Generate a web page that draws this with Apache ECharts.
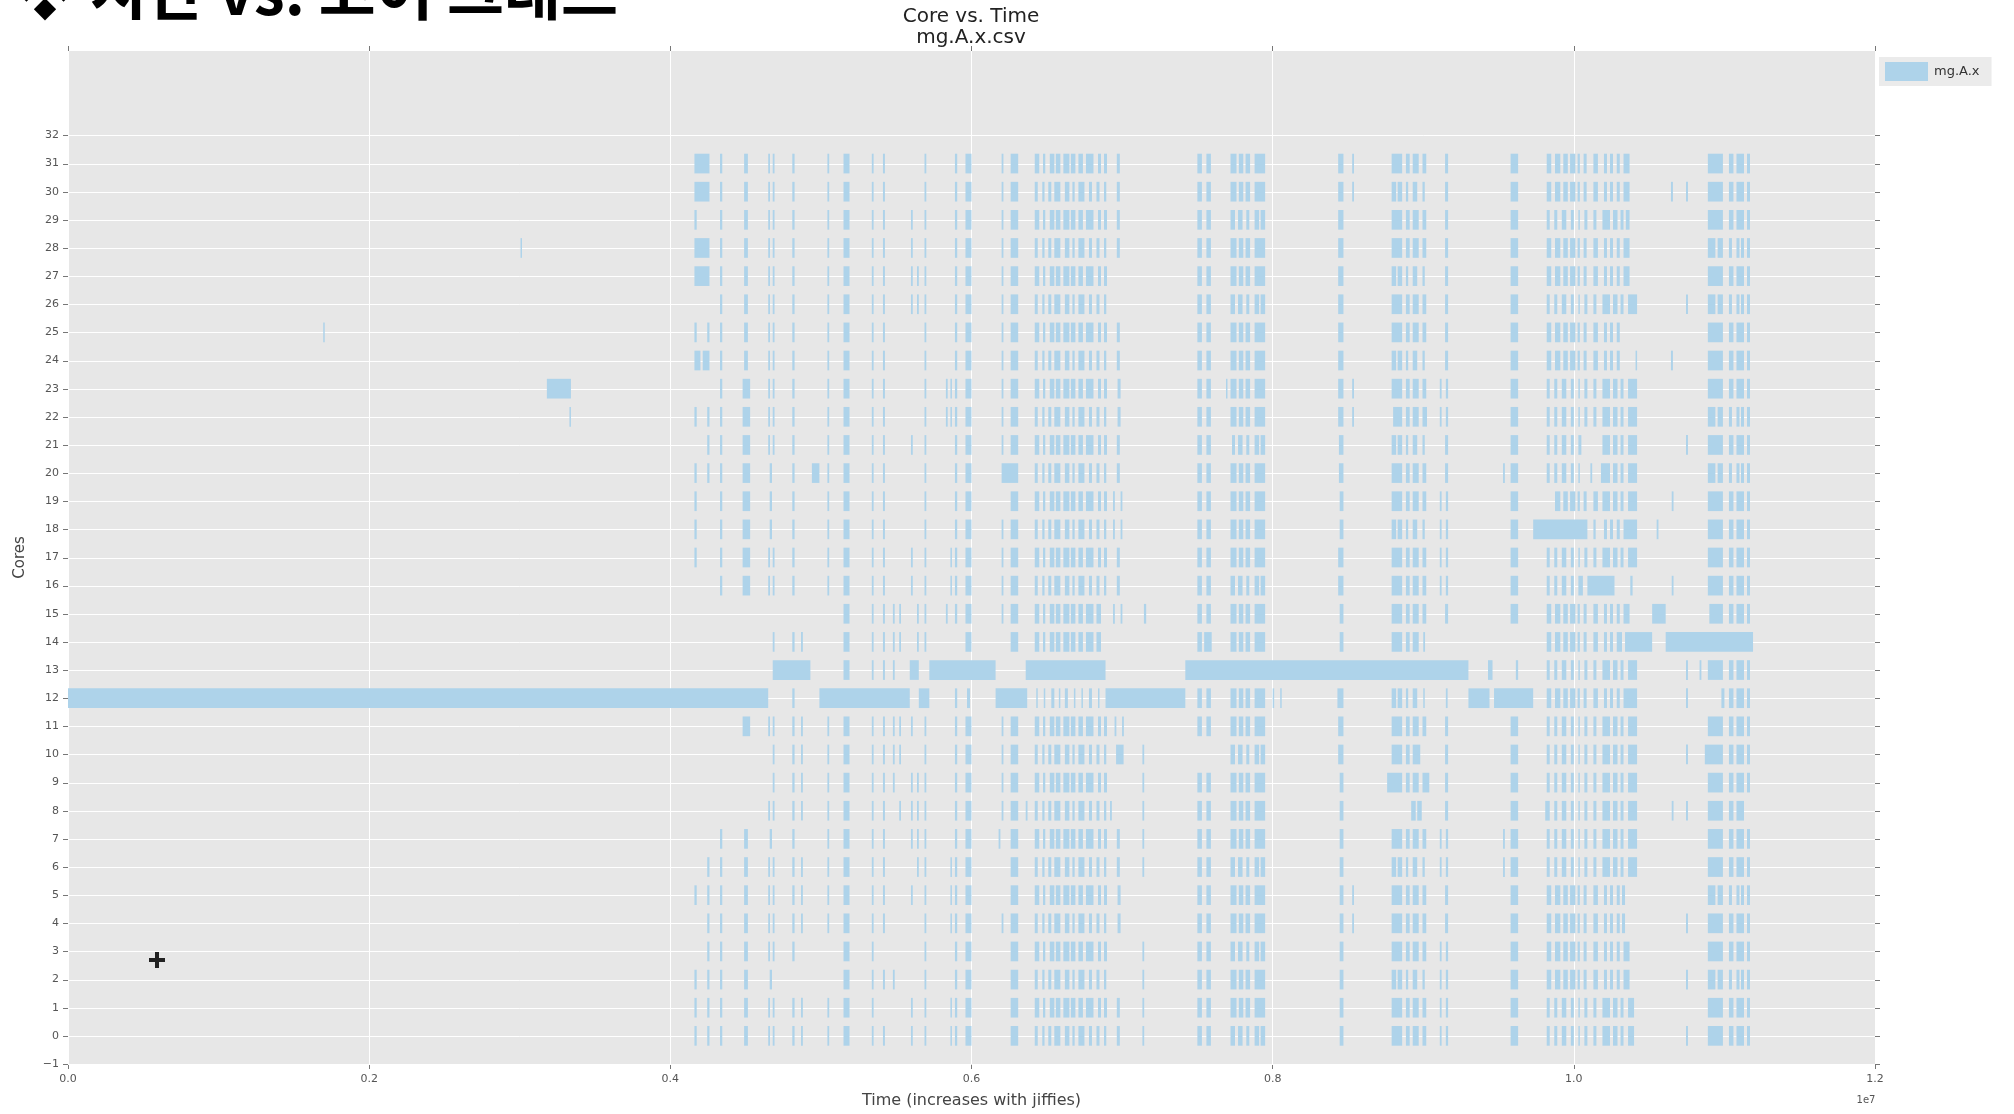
<!DOCTYPE html>
<html>
<head>
<meta charset="utf-8">
<script src="https://cdn.jsdelivr.net/npm/echarts@6/dist/echarts.min.js"></script>
<style>
  html, body { margin: 0; padding: 0; background: #ffffff; }
  #chart { width: 2014px; height: 1114px; }
</style>
</head>
<body>
<div id="chart"></div>
<script>
// Busy intervals per core, as flat [start, end, start, end, ...] lists.
// Times are in units of 1e5 jiffies (the x axis is labelled in 1e7).
const core31 = [41.6,42.6, 43.3,43.45, 44.9,45.15, 46.5,46.62, 46.8,46.92, 48.1,48.25, 50.43,50.55, 51.5,51.9, 53.38,53.5, 54.12,54.25, 56.88,57.0, 58.9,59.05, 59.6,60.0, 62.0,62.12, 62.6,63.1,
  64.2,64.5, 64.75,64.9, 65.2,65.5, 65.6,65.9, 66.1,66.5, 66.6,66.9, 67.1,67.4, 67.6,68.1, 68.4,68.6, 68.8,69.0, 69.65,69.85,
  75.0,75.3, 75.6,75.9, 77.2,77.6, 77.75,78.05, 78.2,78.5, 78.8,79.5, 84.35,84.7, 85.28,85.4,
  87.9,88.6, 88.85,89.1, 89.3,89.7, 89.95,90.2, 91.45,91.65, 95.8,96.3,
  98.2,98.5, 98.75,99.1, 99.3,99.6, 99.75,100.1, 100.25,100.4, 100.65,100.85, 101.3,101.6, 102.0,102.2, 102.4,102.6, 102.85,103.05, 103.3,103.7,
  108.9,109.9, 110.3,110.6, 110.8,111.3, 111.5,111.7];
const core30 = [41.6,42.6, 43.3,43.45, 44.9,45.15, 46.5,46.62, 46.8,46.92, 48.1,48.25, 50.43,50.55, 51.5,51.9, 53.38,53.5, 54.12,54.25, 56.88,57.0, 58.9,59.05, 59.6,60.0, 62.0,62.12, 62.6,63.1,
  64.2,64.4, 64.7,64.85, 65.1,65.3, 65.5,65.9, 66.2,66.5, 66.7,66.85, 67.1,67.5, 67.8,68.0, 68.3,68.5, 68.8,68.95, 69.65,69.85,
  75.0,75.3, 75.6,75.9, 77.2,77.6, 77.75,78.05, 78.2,78.5, 78.8,79.5, 84.35,84.7, 85.28,85.4,
  87.9,88.2, 88.3,88.6, 88.85,89.0, 89.3,89.6, 89.95,90.1, 91.45,91.65, 95.8,96.3,
  98.2,98.5, 98.75,99.1, 99.3,99.6, 99.75,100.1, 100.25,100.4, 100.65,100.85, 101.3,101.6, 102.0,102.2, 102.4,102.6, 102.85,103.05, 103.3,103.7,
  106.45,106.58, 107.45,107.58, 108.9,109.9, 110.3,110.6, 110.8,111.3, 111.5,111.7];
const core29 = [41.6,41.75, 43.3,43.45, 44.9,45.15, 46.5,46.62, 46.8,46.92, 48.1,48.25, 50.43,50.55, 51.5,51.9, 53.38,53.5, 54.12,54.25, 55.98,56.1, 56.88,57.0, 58.9,59.05, 59.6,60.0, 62.0,62.12, 62.6,63.1,
  64.2,64.5, 64.75,64.9, 65.2,65.5, 65.6,65.9, 66.1,66.5, 66.6,66.9, 67.1,67.4, 67.6,68.1, 68.4,68.6, 68.8,69.0, 69.65,69.85,
  75.0,75.3, 75.6,75.9, 77.2,77.5, 77.7,78.0, 78.25,78.45, 78.8,79.1, 79.2,79.5, 84.35,84.7,
  87.9,88.6, 88.85,89.1, 89.3,89.7, 89.95,90.2, 91.45,91.65, 95.8,96.3,
  98.2,98.4, 98.7,98.9, 99.2,99.5, 99.8,100.0, 100.3,100.4, 100.7,100.9, 101.3,101.5, 101.9,102.4, 102.6,102.9, 103.1,103.3, 103.45,103.7,
  108.9,109.9, 110.3,110.6, 110.8,111.3, 111.5,111.7];
const core28 = [30.05,30.15, 41.6,42.6, 43.3,43.45, 44.9,45.15, 46.5,46.62, 46.8,46.92, 48.1,48.25, 50.43,50.55, 51.5,51.9, 53.38,53.5, 54.12,54.25, 55.98,56.1, 56.88,57.0, 58.9,59.05, 59.6,60.0, 62.0,62.12, 62.6,63.1,
  64.2,64.4, 64.7,64.85, 65.1,65.3, 65.5,65.9, 66.2,66.5, 66.7,66.85, 67.1,67.5, 67.8,68.0, 68.3,68.5, 68.8,68.95, 69.65,69.85,
  75.0,75.3, 75.6,75.9, 77.2,77.6, 77.75,78.05, 78.2,78.5, 78.8,79.5, 84.35,84.7,
  87.9,88.6, 88.85,89.1, 89.3,89.7, 89.95,90.2, 91.45,91.65, 95.8,96.3,
  98.2,98.5, 98.75,99.1, 99.3,99.6, 99.75,100.1, 100.25,100.4, 100.65,100.85, 101.3,101.6, 102.0,102.2, 102.4,102.6, 102.85,103.05, 103.3,103.7,
  108.9,109.4, 109.55,109.9, 110.3,110.5, 110.8,111.0, 111.1,111.3, 111.5,111.7];
const core27 = [41.6,42.6, 43.3,43.45, 44.9,45.15, 46.5,46.62, 46.8,46.92, 48.1,48.25, 50.43,50.55, 51.5,51.9, 53.38,53.5, 54.12,54.25, 55.98,56.1, 56.38,56.5, 56.88,57.0, 58.9,59.05, 59.6,60.0, 62.0,62.12, 62.6,63.1,
  64.2,64.5, 64.75,64.9, 65.2,65.5, 65.6,65.9, 66.1,66.5, 66.6,66.9, 67.1,67.4, 67.6,68.1, 68.4,68.6, 68.8,69.0,
  75.0,75.3, 75.6,75.9, 77.2,77.6, 77.75,78.05, 78.2,78.5, 78.8,79.5, 84.35,84.7,
  87.9,88.2, 88.3,88.6, 88.85,89.0, 89.3,89.6, 89.95,90.1, 91.45,91.65, 95.8,96.3,
  98.2,98.5, 98.75,99.1, 99.3,99.6, 99.75,100.1, 100.25,100.4, 100.65,100.85, 101.3,101.6, 102.0,102.2, 102.4,102.6, 102.85,103.05, 103.3,103.7,
  108.9,109.9, 110.3,110.6, 110.8,111.3, 111.5,111.7];
const core26 = [43.3,43.45, 44.9,45.15, 46.5,46.62, 46.8,46.92, 48.1,48.25, 50.43,50.55, 51.5,51.9, 53.38,53.5, 54.12,54.25, 55.98,56.1, 56.38,56.5, 56.88,57.0, 58.9,59.05, 59.6,60.0, 62.0,62.12, 62.6,63.1,
  64.2,64.4, 64.7,64.85, 65.1,65.3, 65.5,65.9, 66.2,66.5, 66.7,66.85, 67.1,67.5, 67.8,68.0, 68.3,68.5, 68.8,68.95,
  75.0,75.3, 75.6,75.9, 77.2,77.5, 77.7,78.0, 78.25,78.45, 78.8,79.1, 79.2,79.5, 84.35,84.7,
  87.9,88.6, 88.85,89.1, 89.3,89.7, 89.95,90.2, 91.45,91.65, 95.8,96.3,
  98.2,98.4, 98.7,98.9, 99.2,99.5, 99.8,100.0, 100.3,100.4, 100.7,100.9, 101.3,101.5, 101.9,102.4, 102.6,102.9, 103.1,103.3, 103.6,104.2,
  107.45,107.58, 108.9,109.4, 109.55,109.9, 110.3,110.5, 110.8,111.0, 111.1,111.3, 111.5,111.7];
const core25 = [16.95,17.05, 41.6,41.75, 42.45,42.6, 43.3,43.45, 44.9,45.15, 46.5,46.62, 46.8,46.92, 48.1,48.25, 50.43,50.55, 51.5,51.9, 53.38,53.5, 54.12,54.25, 56.88,57.0, 58.9,59.05, 59.6,60.0, 62.0,62.12, 62.6,63.1,
  64.2,64.5, 64.75,64.9, 65.2,65.5, 65.6,65.9, 66.1,66.5, 66.6,66.9, 67.1,67.4, 67.6,68.1, 68.4,68.6, 68.8,69.0, 69.65,69.85,
  75.0,75.3, 75.6,75.9, 77.2,77.6, 77.75,78.05, 78.2,78.5, 78.8,79.5, 84.35,84.7,
  87.9,88.6, 88.85,89.1, 89.3,89.7, 89.95,90.2, 91.45,91.65, 95.8,96.3,
  98.2,98.5, 98.75,99.1, 99.3,99.6, 99.75,100.1, 100.25,100.4, 100.65,100.85, 101.3,101.6, 102.0,102.2, 102.4,102.6, 102.85,103.05,
  108.9,109.9, 110.3,110.6, 110.8,111.3, 111.5,111.7];
const core24 = [41.6,42.0, 42.15,42.6, 43.3,43.45, 44.9,45.15, 46.5,46.62, 46.8,46.92, 48.1,48.25, 50.43,50.55, 51.5,51.9, 53.38,53.5, 54.12,54.25, 56.88,57.0, 58.9,59.05, 59.6,60.0, 62.0,62.12, 62.6,63.1,
  64.2,64.4, 64.7,64.85, 65.1,65.3, 65.5,65.9, 66.2,66.5, 66.7,66.85, 67.1,67.5, 67.8,68.0, 68.3,68.5, 68.8,68.95, 69.65,69.85,
  75.0,75.3, 75.6,75.9, 77.2,77.6, 77.75,78.05, 78.2,78.5, 78.8,79.5, 84.35,84.7,
  87.9,88.2, 88.3,88.6, 88.85,89.0, 89.3,89.6, 89.95,90.1, 91.45,91.65, 95.8,96.3,
  98.2,98.5, 98.75,99.1, 99.3,99.6, 99.75,100.1, 100.25,100.4, 100.65,100.85, 101.3,101.6, 102.0,102.2, 102.4,102.6, 102.85,103.05, 104.1,104.2,
  106.45,106.58, 108.9,109.9, 110.3,110.6, 110.8,111.3, 111.5,111.7];
const core23 = [31.8,33.4, 43.3,43.45, 44.8,45.3, 46.5,46.62, 46.8,46.92, 48.1,48.25, 50.43,50.55, 51.5,51.9, 53.38,53.5, 54.12,54.25, 56.88,57.0, 58.3,58.42, 58.6,58.7, 58.9,59.05, 59.6,60.0, 62.0,62.12, 62.6,63.1,
  64.2,64.5, 64.75,64.9, 65.2,65.5, 65.6,65.9, 66.1,66.5, 66.6,66.9, 67.1,67.4, 67.6,68.1, 68.4,68.6, 68.8,69.0, 69.7,69.9,
  75.0,75.3, 75.6,75.9, 76.9,77.0, 77.2,77.6, 77.75,78.05, 78.2,78.5, 78.8,79.5, 84.35,84.7, 85.28,85.4,
  87.9,88.6, 88.85,89.1, 89.3,89.7, 89.95,90.2, 91.1,91.22, 91.5,91.65, 95.8,96.3,
  98.2,98.4, 98.7,98.9, 99.2,99.5, 99.8,100.0, 100.3,100.4, 100.7,100.9, 101.3,101.5, 101.9,102.4, 102.6,102.9, 103.1,103.3, 103.6,104.2,
  108.9,109.9, 110.3,110.6, 110.8,111.3, 111.5,111.7];
const core22 = [33.3,33.4, 41.6,41.75, 42.45,42.6, 43.3,43.45, 44.8,45.3, 46.5,46.62, 46.8,46.92, 48.1,48.25, 50.43,50.55, 51.5,51.9, 53.38,53.5, 54.12,54.25, 56.88,57.0, 58.3,58.42, 58.6,58.7, 58.9,59.05, 59.6,60.0, 62.0,62.12, 62.6,63.1,
  64.2,64.4, 64.7,64.85, 65.1,65.3, 65.5,65.9, 66.2,66.5, 66.7,66.85, 67.1,67.5, 67.8,68.0, 68.3,68.5, 68.8,68.95, 69.7,69.9,
  75.0,75.3, 75.6,75.9, 77.2,77.6, 77.75,78.05, 78.2,78.5, 78.8,79.5, 84.35,84.7, 85.28,85.4,
  88.0,88.6, 88.85,89.1, 89.3,89.7, 89.95,90.25, 91.1,91.22, 91.5,91.65, 95.8,96.3,
  98.2,98.4, 98.7,98.9, 99.2,99.5, 99.8,100.0, 100.3,100.4, 100.7,100.9, 101.3,101.5, 101.9,102.4, 102.6,102.9, 103.1,103.3, 103.6,104.2,
  108.9,109.4, 109.55,109.9, 110.3,110.5, 110.8,111.0, 111.1,111.3, 111.5,111.7];
const core21 = [42.45,42.6, 43.3,43.45, 44.8,45.3, 46.5,46.62, 46.8,46.92, 48.1,48.25, 50.43,50.55, 51.5,51.9, 53.38,53.5, 54.12,54.25, 55.98,56.1, 56.88,57.0, 58.9,59.05, 59.6,60.0, 62.0,62.12, 62.6,63.1,
  64.2,64.5, 64.75,64.9, 65.2,65.5, 65.6,65.9, 66.1,66.5, 66.6,66.9, 67.1,67.4, 67.6,68.1, 68.4,68.6, 68.8,69.0, 69.65,69.85,
  75.0,75.3, 75.6,75.9, 77.3,77.5, 77.7,78.0, 78.25,78.45, 78.8,79.1, 79.2,79.5, 84.4,84.7,
  87.9,88.2, 88.3,88.6, 88.85,89.0, 89.3,89.6, 89.95,90.1, 91.45,91.65, 95.8,96.3,
  98.2,98.4, 98.7,98.9, 99.2,99.5, 99.8,100.0, 100.3,100.5, 101.9,102.4, 102.6,102.9, 103.1,103.3, 103.6,104.2,
  107.45,107.58, 108.9,109.9, 110.3,110.6, 110.8,111.3, 111.5,111.7];
const core20 = [41.6,41.75, 42.45,42.6, 43.3,43.45, 44.8,45.3, 46.6,46.75, 48.1,48.25, 49.4,49.9, 50.43,50.55, 51.5,51.9, 53.38,53.5, 54.12,54.25, 56.88,57.0, 58.9,59.05, 59.6,60.0, 62.0,63.1,
  64.2,64.4, 64.7,64.85, 65.1,65.3, 65.5,65.9, 66.2,66.5, 66.7,66.85, 67.1,67.5, 67.8,68.0, 68.3,68.5, 68.8,68.95, 69.65,69.85,
  75.0,75.3, 75.6,75.9, 77.2,77.6, 77.75,78.05, 78.2,78.5, 78.8,79.5, 84.4,84.7,
  87.9,88.6, 88.85,89.1, 89.3,89.7, 89.95,90.2, 91.45,91.65, 95.3,95.42, 95.8,96.3,
  98.2,98.4, 98.7,98.9, 99.2,99.5, 99.8,100.0, 100.3,100.4, 101.1,101.22, 101.8,102.4, 102.6,102.9, 103.1,103.3, 103.6,104.2,
  108.9,109.4, 109.55,109.9, 110.3,110.5, 110.8,111.0, 111.1,111.3, 111.5,111.7];
const core19 = [41.6,41.75, 43.3,43.45, 44.8,45.3, 46.6,46.75, 48.1,48.25, 50.43,50.55, 51.5,51.9, 53.38,53.5, 54.12,54.25, 56.88,57.0, 58.9,59.05, 59.6,60.0, 62.6,63.1,
  64.2,64.5, 64.75,64.9, 65.2,65.5, 65.6,65.9, 66.1,66.5, 66.6,66.9, 67.1,67.4, 67.6,68.1, 68.4,68.6, 68.8,69.0, 69.4,69.52, 69.9,70.02,
  75.0,75.3, 75.6,75.9, 77.2,77.6, 77.75,78.05, 78.2,78.5, 78.8,79.5, 84.45,84.7,
  87.9,88.6, 88.85,89.1, 89.3,89.7, 89.95,90.2, 91.1,91.22, 91.5,91.65, 95.8,96.3,
  98.75,99.1, 99.3,99.6, 99.75,100.1, 100.25,100.4, 100.65,100.85, 101.3,101.6, 101.9,102.4, 102.6,102.9, 103.1,103.3, 103.6,104.2,
  106.5,106.62, 108.9,109.9, 110.3,110.6, 110.8,111.3, 111.5,111.7];
const core18 = [41.6,41.75, 43.3,43.45, 44.8,45.3, 46.6,46.75, 48.1,48.25, 50.43,50.55, 51.5,51.9, 53.38,53.5, 54.12,54.25, 56.88,57.0, 58.9,59.05, 59.6,60.0, 62.0,62.12, 62.6,63.1,
  64.2,64.4, 64.7,64.85, 65.1,65.3, 65.5,65.9, 66.2,66.5, 66.7,66.85, 67.1,67.5, 67.8,68.0, 68.3,68.5, 68.8,68.95, 69.4,69.52, 69.9,70.02,
  75.0,75.3, 75.6,75.9, 77.2,77.6, 77.75,78.05, 78.2,78.5, 78.8,79.5, 84.45,84.7,
  87.9,88.2, 88.3,88.6, 88.85,89.0, 89.3,89.6, 89.95,90.1, 91.1,91.22, 91.5,91.65, 95.8,96.3,
  97.3,100.9, 101.3,101.45, 102.0,102.2, 102.4,102.6, 102.85,103.05, 103.3,104.2, 105.5,105.62,
  108.9,109.9, 110.3,110.6, 110.8,111.3, 111.5,111.7];
const core17 = [41.6,41.75, 43.3,43.45, 44.8,45.3, 46.5,46.62, 46.8,46.92, 48.1,48.25, 50.43,50.55, 51.5,51.9, 53.38,53.5, 54.12,54.25, 55.98,56.1, 56.88,57.0, 58.6,58.7, 58.9,59.05, 59.6,60.0, 62.0,62.12, 62.6,63.1,
  64.2,64.5, 64.75,64.9, 65.2,65.5, 65.6,65.9, 66.1,66.5, 66.6,66.9, 67.1,67.4, 67.6,68.1, 68.4,68.6, 68.8,69.0, 69.65,69.85,
  75.0,75.3, 75.6,75.9, 77.2,77.6, 77.75,78.05, 78.2,78.5, 78.8,79.5, 84.35,84.7,
  87.9,88.6, 88.85,89.1, 89.3,89.7, 89.95,90.2, 91.1,91.22, 91.5,91.65, 95.8,96.3,
  98.2,98.4, 98.7,98.9, 99.2,99.5, 99.8,100.0, 100.3,100.4, 100.7,100.9, 101.3,101.5, 101.9,102.4, 102.6,102.9, 103.1,103.3, 103.6,104.2,
  108.9,109.9, 110.3,110.6, 110.8,111.3, 111.5,111.7];
const core16 = [43.3,43.45, 44.8,45.3, 46.5,46.62, 46.8,46.92, 48.1,48.25, 50.43,50.55, 51.5,51.9, 53.38,53.5, 54.12,54.25, 55.98,56.1, 56.88,57.0, 58.6,58.7, 58.9,59.05, 59.6,60.0, 62.0,62.12, 62.6,63.1,
  64.2,64.4, 64.7,64.85, 65.1,65.3, 65.5,65.9, 66.2,66.5, 66.7,66.85, 67.1,67.5, 67.8,68.0, 68.3,68.5, 68.8,68.95, 69.65,69.85,
  75.0,75.3, 75.6,75.9, 77.2,77.5, 77.7,78.0, 78.25,78.45, 78.8,79.1, 79.2,79.5, 84.35,84.7,
  87.9,88.6, 88.85,89.1, 89.3,89.7, 89.95,90.2, 91.1,91.22, 91.5,91.65, 95.8,96.3,
  98.2,98.4, 98.7,98.9, 99.2,99.5, 99.8,100.0, 100.3,100.6, 100.9,102.7, 103.75,103.9, 106.5,106.62,
  108.9,109.9, 110.3,110.6, 110.8,111.3, 111.5,111.7];
const core15 = [51.5,51.9, 53.38,53.5, 54.12,54.25, 54.78,54.9, 55.2,55.32, 56.38,56.5, 56.88,57.0, 58.3,58.42, 58.9,59.05, 59.6,60.0, 62.0,62.12, 62.6,63.1,
  64.2,64.5, 64.75,64.9, 65.2,65.5, 65.6,65.9, 66.1,66.5, 66.6,66.9, 67.1,67.4, 67.6,68.1, 68.3,68.6, 69.4,69.52, 69.9,70.02, 71.45,71.6,
  75.0,75.3, 75.6,75.9, 77.2,77.6, 77.75,78.05, 78.2,78.5, 78.8,79.5, 84.45,84.7,
  87.9,88.6, 88.85,89.1, 89.3,89.7, 89.95,90.2, 91.45,91.65, 95.8,96.3,
  98.2,98.5, 98.75,99.1, 99.3,99.6, 99.75,100.1, 100.25,100.4, 100.65,100.85, 101.3,101.6, 102.0,102.2, 102.4,102.6, 102.85,103.05, 103.3,103.7,
  105.2,106.1, 109.0,109.9, 110.3,110.6, 110.8,111.3, 111.5,111.7];
const core14 = [46.8,46.92, 48.1,48.25, 48.68,48.8, 51.5,51.9, 53.38,53.5, 54.12,54.25, 54.78,54.9, 55.2,55.32, 56.38,56.5, 56.88,57.0, 59.6,60.0, 62.6,63.1,
  64.2,64.5, 64.75,64.9, 65.2,65.5, 65.6,65.9, 66.1,66.5, 66.6,66.9, 67.1,67.4, 67.6,68.1, 68.3,68.6,
  75.0,75.3, 75.45,75.95, 77.2,77.6, 77.75,78.05, 78.2,78.5, 78.8,79.5, 84.45,84.7,
  87.9,88.6, 88.85,89.1, 89.3,89.7, 90.0,90.12,
  98.2,98.5, 98.75,99.1, 99.3,99.6, 99.75,100.1, 100.25,100.4, 100.65,100.85, 101.3,101.6, 102.0,102.2, 102.4,102.6, 102.85,103.2,
  103.4,105.2, 106.1,111.9];
const core13 = [46.8,49.3, 51.5,51.9, 53.38,53.5, 54.12,54.25, 54.78,54.9, 55.9,56.5, 57.2,61.6, 63.6,68.9, 74.2,93.0, 94.3,94.6, 96.15,96.3,
  98.2,98.4, 98.7,98.9, 99.2,99.5, 99.8,100.0, 100.3,100.4, 100.7,100.9, 101.3,101.5, 101.9,102.4, 102.6,102.9, 103.1,103.3, 103.6,104.2,
  107.45,107.58, 108.35,108.47, 108.9,109.9, 110.3,110.6, 110.8,111.3, 111.5,111.7];
const core12 = [0,46.5, 48.1,48.25, 49.9,55.9, 56.5,57.2, 58.9,59.05, 59.7,59.9, 61.6,63.7,
  64.3,64.4, 64.8,64.9, 65.3,65.5, 65.8,65.9, 66.2,66.4, 66.8,66.9, 67.3,67.4, 67.8,68.0, 68.4,68.5, 68.9,74.2,
  75.0,75.3, 75.6,75.9, 77.2,77.6, 77.75,78.05, 78.2,78.5, 78.8,79.5, 80.0,80.1, 80.5,80.6, 84.3,84.7,
  87.9,88.2, 88.3,88.6, 88.85,89.0, 89.3,89.6, 90.0,90.1, 91.5,91.62, 93.0,94.4, 94.7,97.3,
  98.2,98.5, 98.75,99.1, 99.3,99.6, 99.75,100.1, 100.25,100.4, 100.65,100.85, 101.3,101.6, 102.0,102.2, 102.4,102.6, 102.85,103.05, 103.3,104.2,
  107.45,107.58, 109.8,110.0, 110.3,110.6, 110.8,111.3, 111.5,111.7];
const core11 = [44.8,45.3, 46.5,46.62, 46.8,46.92, 48.1,48.25, 48.68,48.8, 50.43,50.55, 51.5,51.9, 53.38,53.5, 54.12,54.25, 54.78,54.9, 55.2,55.32, 55.98,56.1, 56.88,57.0, 58.9,59.05, 59.6,60.0, 62.0,62.12, 62.6,63.1,
  64.2,64.5, 64.75,64.9, 65.2,65.5, 65.6,65.9, 66.1,66.5, 66.6,66.9, 67.1,67.4, 67.6,68.1, 68.4,68.6, 68.8,69.0, 69.5,69.62, 70.0,70.12,
  75.0,75.3, 75.6,75.9, 77.2,77.6, 77.75,78.05, 78.2,78.5, 78.8,79.5, 84.35,84.7,
  87.9,88.6, 88.85,89.1, 89.3,89.7, 89.95,90.2, 91.45,91.65, 95.8,96.3,
  98.2,98.4, 98.7,98.9, 99.2,99.5, 99.8,100.0, 100.3,100.4, 100.7,100.9, 101.3,101.5, 101.9,102.4, 102.6,102.9, 103.1,103.3, 103.6,104.2,
  108.9,109.9, 110.3,110.6, 110.8,111.3, 111.5,111.7];
const core10 = [46.8,46.92, 48.1,48.25, 48.68,48.8, 50.43,50.55, 51.5,51.9, 53.38,53.5, 54.12,54.25, 54.78,54.9, 55.2,55.32, 56.88,57.0, 58.9,59.05, 59.6,60.0, 62.0,62.12, 62.6,63.1,
  64.2,64.4, 64.7,64.85, 65.1,65.3, 65.5,65.9, 66.2,66.5, 66.7,66.85, 67.1,67.5, 67.8,68.0, 68.3,68.5, 68.8,68.95, 69.6,70.1, 71.35,71.47,
  77.2,77.5, 77.7,78.0, 78.25,78.45, 78.8,79.1, 79.2,79.5, 84.35,84.7,
  87.9,88.6, 88.85,89.1, 89.3,89.8, 91.45,91.65, 95.8,96.3,
  98.2,98.4, 98.7,98.9, 99.2,99.5, 99.8,100.0, 100.3,100.4, 100.7,100.9, 101.3,101.5, 101.9,102.4, 102.6,102.9, 103.1,103.3, 103.6,104.2,
  107.45,107.58, 108.7,109.9, 110.3,110.6, 110.8,111.3, 111.5,111.7];
const core9 = [46.8,46.92, 48.1,48.25, 48.68,48.8, 50.43,50.55, 51.5,51.9, 53.38,53.5, 54.12,54.25, 54.78,54.9, 55.98,56.1, 56.38,56.5, 56.88,57.0, 58.9,59.05, 59.6,60.0, 62.0,62.12, 62.6,63.1,
  64.2,64.5, 64.75,64.9, 65.2,65.5, 65.6,65.9, 66.1,66.5, 66.6,66.9, 67.1,67.4, 67.6,68.1, 68.4,68.6, 68.8,69.0, 71.35,71.47,
  75.0,75.3, 75.6,75.9, 77.2,77.6, 77.75,78.05, 78.2,78.5, 78.8,79.5, 84.45,84.7,
  87.6,88.6, 88.85,89.1, 89.3,89.7, 89.95,90.4, 91.45,91.65, 95.8,96.3,
  98.2,98.4, 98.7,98.9, 99.2,99.5, 99.8,100.0, 100.3,100.4, 100.7,100.9, 101.3,101.5, 101.9,102.4, 102.6,102.9, 103.1,103.3, 103.6,104.2,
  108.9,109.9, 110.3,110.6, 110.8,111.3, 111.5,111.7];
const core8 = [46.5,46.62, 46.8,46.92, 48.1,48.25, 48.68,48.8, 50.43,50.55, 51.5,51.9, 53.38,53.5, 54.12,54.25, 55.2,55.32, 55.98,56.1, 56.38,56.5, 56.88,57.0, 58.9,59.05, 59.6,60.0, 62.0,62.12, 62.6,63.1, 63.6,63.72,
  64.2,64.4, 64.7,64.85, 65.1,65.3, 65.5,65.9, 66.2,66.5, 66.7,66.85, 67.1,67.5, 67.8,68.0, 68.3,68.5, 68.8,68.95, 69.2,69.32, 71.35,71.47,
  75.0,75.3, 75.6,75.9, 77.2,77.6, 77.75,78.05, 78.2,78.5, 78.8,79.5, 84.45,84.7,
  89.2,89.5, 89.6,89.9, 91.45,91.65, 95.8,96.3,
  98.1,98.4, 98.7,98.9, 99.2,99.5, 99.8,100.0, 100.3,100.4, 100.7,100.9, 101.3,101.5, 101.9,102.4, 102.6,102.9, 103.1,103.3, 103.6,104.2,
  106.5,106.62, 107.45,107.58, 108.9,109.9, 110.3,110.6, 110.8,111.3];
const core7 = [43.3,43.45, 44.9,45.15, 46.6,46.75, 48.1,48.25, 50.43,50.55, 51.5,51.9, 53.38,53.5, 54.12,54.25, 55.98,56.1, 56.38,56.5, 56.88,57.0, 58.9,59.05, 59.6,60.0, 61.8,61.92, 62.6,63.1,
  64.2,64.5, 64.75,64.9, 65.2,65.5, 65.6,65.9, 66.1,66.5, 66.6,66.9, 67.1,67.4, 67.6,68.1, 68.4,68.6, 68.8,69.0, 69.65,69.85, 71.35,71.47,
  75.0,75.3, 75.6,75.9, 77.2,77.6, 77.75,78.05, 78.2,78.5, 78.8,79.5, 84.45,84.7,
  87.9,88.6, 88.85,89.1, 89.3,89.7, 89.95,90.2, 91.1,91.22, 91.5,91.65, 95.3,95.42, 95.8,96.3,
  98.2,98.4, 98.7,98.9, 99.2,99.5, 99.8,100.0, 100.3,100.4, 100.7,100.9, 101.3,101.5, 101.9,102.4, 102.6,102.9, 103.1,103.3, 103.6,104.2,
  108.9,109.9, 110.3,110.6, 110.8,111.3, 111.5,111.7];
const core6 = [42.45,42.6, 43.3,43.45, 44.9,45.15, 46.5,46.62, 46.8,46.92, 48.1,48.25, 48.68,48.8, 50.43,50.55, 51.5,51.9, 53.38,53.5, 54.12,54.25, 56.38,56.5, 56.88,57.0, 58.6,58.7, 58.9,59.05, 59.6,60.0, 62.6,63.1,
  64.2,64.4, 64.7,64.85, 65.1,65.3, 65.5,65.9, 66.2,66.5, 66.7,66.85, 67.1,67.5, 67.8,68.0, 68.3,68.5, 68.8,68.95, 69.65,69.85, 71.35,71.47,
  75.0,75.3, 75.6,75.9, 77.2,77.5, 77.7,78.0, 78.25,78.45, 78.8,79.1, 79.2,79.5, 84.45,84.7,
  87.9,88.2, 88.3,88.6, 88.85,89.0, 89.3,89.6, 89.95,90.1, 91.1,91.22, 91.5,91.65, 95.3,95.42, 95.8,96.3,
  98.2,98.4, 98.7,98.9, 99.2,99.5, 99.8,100.0, 100.3,100.4, 100.7,100.9, 101.3,101.5, 101.9,102.4, 102.6,102.9, 103.1,103.3, 103.6,104.2,
  108.9,109.9, 110.3,110.6, 110.8,111.3, 111.5,111.7];
const core5 = [41.6,41.75, 42.45,42.6, 43.3,43.45, 44.9,45.15, 46.5,46.62, 46.8,46.92, 48.1,48.25, 48.68,48.8, 50.43,50.55, 51.5,51.9, 53.38,53.5, 54.12,54.25, 55.98,56.1, 56.88,57.0, 58.6,58.7, 58.9,59.05, 59.6,60.0, 62.6,63.1,
  64.2,64.5, 64.75,64.9, 65.2,65.5, 65.6,65.9, 66.1,66.5, 66.6,66.9, 67.1,67.4, 67.6,68.1, 68.4,68.6, 68.8,69.0, 69.7,69.9,
  75.0,75.3, 75.6,75.9, 77.2,77.6, 77.75,78.05, 78.2,78.5, 78.8,79.5, 84.45,84.7, 85.28,85.4,
  87.9,88.6, 88.85,89.1, 89.3,89.7, 89.95,90.2, 91.45,91.65, 95.8,96.3,
  98.2,98.5, 98.75,99.1, 99.3,99.6, 99.75,100.1, 100.25,100.4, 100.65,100.85, 101.3,101.6, 102.0,102.2, 102.4,102.6, 102.85,103.05, 103.2,103.4,
  108.9,109.4, 109.55,109.9, 110.3,110.5, 110.8,111.0, 111.1,111.3, 111.5,111.7];
const core4 = [42.45,42.6, 43.3,43.45, 44.9,45.15, 46.5,46.62, 46.8,46.92, 48.1,48.25, 48.68,48.8, 50.43,50.55, 51.5,51.9, 53.38,53.5, 54.12,54.25, 56.88,57.0, 58.6,58.7, 58.9,59.05, 59.6,60.0, 62.0,62.12, 62.6,63.1,
  64.2,64.4, 64.7,64.85, 65.1,65.3, 65.5,65.9, 66.2,66.5, 66.7,66.85, 67.1,67.5, 67.8,68.0, 68.3,68.5, 68.8,68.95, 69.7,69.9,
  75.0,75.3, 75.6,75.9, 77.2,77.6, 77.75,78.05, 78.2,78.5, 78.8,79.5, 84.45,84.7, 85.28,85.4,
  87.9,88.6, 88.85,89.1, 89.3,89.7, 89.95,90.2, 91.45,91.65, 95.8,96.3,
  98.2,98.5, 98.75,99.1, 99.3,99.6, 99.75,100.1, 100.25,100.4, 100.65,100.85, 101.3,101.6, 102.0,102.2, 102.4,102.6, 102.85,103.05, 103.2,103.4,
  107.45,107.58, 108.9,109.9, 110.3,110.6, 110.8,111.3, 111.5,111.7];
const core3 = [42.45,42.6, 43.3,43.45, 44.9,45.15, 46.5,46.62, 46.8,46.92, 48.1,48.25, 51.5,51.9, 53.38,53.5, 56.88,57.0, 58.9,59.05, 59.6,60.0, 62.6,63.1,
  64.2,64.5, 64.75,64.9, 65.2,65.5, 65.6,65.9, 66.1,66.5, 66.6,66.9, 67.1,67.4, 67.6,68.1, 68.4,68.6, 68.8,69.0, 71.35,71.47,
  75.0,75.3, 75.6,75.9, 77.2,77.5, 77.7,78.0, 78.25,78.45, 78.8,79.1, 79.2,79.5, 84.45,84.7,
  87.9,88.6, 88.85,89.1, 89.3,89.7, 89.95,90.2, 91.1,91.22, 91.5,91.65, 95.8,96.3,
  98.2,98.5, 98.75,99.1, 99.3,99.6, 99.75,100.1, 100.25,100.4, 100.65,100.85, 101.3,101.6, 102.0,102.2, 102.4,102.6, 102.85,103.05, 103.3,103.7,
  108.9,109.9, 110.3,110.6, 110.8,111.3, 111.5,111.7];
const core2 = [41.6,41.75, 42.45,42.6, 43.3,43.45, 44.9,45.15, 46.6,46.75, 51.5,51.9, 53.38,53.5, 54.12,54.25, 54.78,54.9, 56.88,57.0, 58.9,59.05, 59.6,60.0, 62.6,63.1,
  64.2,64.4, 64.7,64.85, 65.1,65.3, 65.5,65.9, 66.2,66.5, 66.7,66.85, 67.1,67.5, 67.8,68.0, 68.3,68.5, 68.8,68.95, 71.35,71.47,
  75.0,75.3, 75.6,75.9, 77.2,77.6, 77.75,78.05, 78.2,78.5, 78.8,79.5, 84.45,84.7,
  87.9,88.2, 88.3,88.6, 88.85,89.0, 89.3,89.6, 89.95,90.1, 91.1,91.22, 91.5,91.65, 95.8,96.3,
  98.2,98.5, 98.75,99.1, 99.3,99.6, 99.75,100.1, 100.25,100.4, 100.65,100.85, 101.3,101.6, 102.0,102.2, 102.4,102.6, 102.85,103.05, 103.3,103.7,
  107.45,107.58, 108.9,109.4, 109.55,109.9, 110.3,110.5, 110.8,111.0, 111.1,111.3, 111.5,111.7];
const core1 = [41.6,41.75, 42.45,42.6, 43.3,43.45, 44.9,45.15, 46.5,46.62, 46.8,46.92, 48.1,48.25, 48.68,48.8, 50.43,50.55, 51.5,51.9, 53.38,53.5, 55.98,56.1, 56.88,57.0, 58.6,58.7, 58.9,59.05, 59.6,60.0, 62.6,63.1,
  64.2,64.5, 64.75,64.9, 65.2,65.5, 65.6,65.9, 66.1,66.5, 66.6,66.9, 67.1,67.4, 67.6,68.1, 68.4,68.6, 68.8,69.0, 69.65,69.85, 71.35,71.47,
  75.0,75.3, 75.6,75.9, 77.2,77.6, 77.75,78.05, 78.2,78.5, 78.8,79.5, 84.45,84.7,
  87.9,88.6, 88.85,89.1, 89.3,89.7, 89.95,90.2, 91.1,91.22, 91.5,91.65, 95.8,96.3,
  98.2,98.4, 98.7,98.9, 99.2,99.5, 99.8,100.0, 100.3,100.4, 100.7,100.9, 101.3,101.5, 101.9,102.4, 102.6,102.9, 103.1,103.3, 103.6,104.0,
  108.9,109.9, 110.3,110.6, 110.8,111.3, 111.5,111.7];
const core0 = [41.6,41.75, 42.45,42.6, 43.3,43.45, 44.9,45.15, 46.5,46.62, 46.8,46.92, 48.1,48.25, 48.68,48.8, 50.43,50.55, 51.5,51.9, 53.38,53.5, 54.12,54.25, 55.98,56.1, 56.88,57.0, 58.6,58.7, 58.9,59.05, 59.6,60.0, 62.6,63.1,
  64.2,64.4, 64.7,64.85, 65.1,65.3, 65.5,65.9, 66.2,66.5, 66.7,66.85, 67.1,67.5, 67.8,68.0, 68.3,68.5, 68.8,68.95, 69.65,69.85, 71.35,71.47,
  75.0,75.3, 75.6,75.9, 77.2,77.5, 77.7,78.0, 78.25,78.45, 78.8,79.1, 79.2,79.5, 84.45,84.7,
  87.9,88.6, 88.85,89.1, 89.3,89.7, 89.95,90.2, 91.1,91.22, 91.5,91.65, 95.8,96.3,
  98.2,98.4, 98.7,98.9, 99.2,99.5, 99.8,100.0, 100.3,100.4, 100.7,100.9, 101.3,101.5, 101.9,102.4, 102.6,102.9, 103.1,103.3, 103.6,104.0,
  107.45,107.58, 108.9,109.9, 110.3,110.6, 110.8,111.3, 111.5,111.7];

const coreBusy = [core0, core1, core2, core3, core4, core5, core6, core7, core8, core9, core10, core11, core12, core13, core14, core15,
  core16, core17, core18, core19, core20, core21, core22, core23, core24, core25, core26, core27, core28, core29, core30, core31];

// Tick positions
const coreTicks = [-1, 0, 1, 2, 3, 4, 5, 6, 7, 8, 9, 10, 11, 12, 13, 14, 15, 16, 17, 18, 19, 20, 21, 22, 23, 24, 25, 26, 27, 28, 29, 30, 31, 32];
const timeTicks = [0, 20, 40, 60, 80, 100, 120];

const seriesName = 'mg.A.x';
const barColor = '#aed3ea';
const barHeight = 0.7;

// Flatten into [start, end, core] items for the custom series.
const busyItems = [];
coreBusy.forEach(function (list, core) {
  for (let i = 0; i + 1 < list.length; i += 2) {
    busyItems.push([list[i], list[i + 1], core]);
  }
});

function renderBusy(params, api) {
  const core = api.value(2);
  const p0 = api.coord([api.value(0), core]);
  const p1 = api.coord([api.value(1), core]);
  const h = api.size([0, barHeight])[1];
  const cs = params.coordSys;
  const rect = echarts.graphic.clipRectByRect(
    { x: p0[0], y: p0[1] - h / 2, width: Math.max(p1[0] - p0[0], 1), height: h },
    { x: cs.x, y: cs.y, width: cs.width, height: cs.height }
  );
  return rect && { type: 'rect', shape: rect, style: { fill: barColor } };
}

// Horizontal grid lines plus outside tick marks on both sides.
function renderCoreGuide(params, api) {
  const cs = params.coordSys;
  const y = Math.round(api.coord([0, api.value(1)])[1]) + 0.5;
  return {
    type: 'group',
    children: [
      { type: 'line', shape: { x1: cs.x, y1: y, x2: cs.x + cs.width, y2: y }, style: { stroke: '#ffffff', lineWidth: 1 } },
      { type: 'line', shape: { x1: cs.x - 5, y1: y, x2: cs.x, y2: y }, style: { stroke: '#777777', lineWidth: 1 } },
      { type: 'line', shape: { x1: cs.x + cs.width, y1: y, x2: cs.x + cs.width + 5, y2: y }, style: { stroke: '#777777', lineWidth: 1 } }
    ]
  };
}

const chart = echarts.init(document.getElementById('chart'), null, { renderer: 'canvas' });

const tickFont = { color: '#555555', fontSize: 11, fontFamily: 'DejaVu Sans' };
const timeTickFormat = function (v) { return (v / 100).toFixed(1); };

chart.setOption({
  animation: false,
  backgroundColor: '#ffffff',
  grid: { left: 68, top: 51, width: 1807, height: 1015, show: true, backgroundColor: '#e7e7e7', borderWidth: 0 },
  legend: {
    data: [seriesName],
    left: 1879, top: 57,
    orient: 'vertical',
    icon: 'rect',
    itemWidth: 43, itemHeight: 19,
    itemGap: 4,
    padding: [5, 12, 5, 6],
    backgroundColor: '#ebebeb',
    textStyle: { color: '#333333', fontSize: 13, fontFamily: 'DejaVu Sans', padding: [0, 0, 0, 1] }
  },
  xAxis: [
    {
      type: 'value', min: timeTicks[0], max: timeTicks[timeTicks.length - 1], interval: timeTicks[1] - timeTicks[0],
      name: 'Time (increases with jiffies)', nameLocation: 'middle', nameGap: 29,
      nameTextStyle: { color: '#444444', fontSize: 16, fontFamily: 'DejaVu Sans' },
      axisLine: { show: false, onZero: false },
      axisTick: { show: true, inside: false, length: 5, lineStyle: { color: '#777777' } },
      axisLabel: Object.assign({ margin: 10, formatter: timeTickFormat }, tickFont),
      splitLine: { show: true, lineStyle: { color: '#ffffff', width: 1 } }
    },
    {
      type: 'value', position: 'top', min: timeTicks[0], max: timeTicks[timeTicks.length - 1], interval: timeTicks[1] - timeTicks[0],
      axisLine: { show: false, onZero: false },
      axisTick: { show: true, inside: false, length: 5, lineStyle: { color: '#777777' } },
      axisLabel: { show: false },
      splitLine: { show: false }
    }
  ],
  yAxis: {
    type: 'value', min: -1, max: 35, interval: 1,
    name: 'Cores', nameLocation: 'middle', nameGap: 40, nameRotate: 90,
    nameTextStyle: { color: '#444444', fontSize: 15, fontFamily: 'DejaVu Sans' },
    axisLine: { show: false, onZero: false },
    axisTick: { show: false },
    splitLine: { show: false },
    axisLabel: Object.assign({
      margin: 9,
      formatter: function (v) {
        if (v > coreTicks[coreTicks.length - 1]) return '';
        return v < 0 ? '\u2212' + (-v) : String(v);
      }
    }, tickFont)
  },
  graphic: [
    {
      type: 'text', x: 14, y: -9, z: 10,
      style: { text: '\u2756 시간 vs. 코어 그래프', fill: '#000000', font: 'bold 62px "Noto Sans CJK KR"', verticalAlign: 'middle', align: 'left' }
    },
    {
      type: 'text', x: 971, y: 6, z: 10,
      style: { text: 'Core vs. Time\nmg.A.x.csv', fill: '#222222', font: '20px "DejaVu Sans"', lineHeight: 21, align: 'center', verticalAlign: 'top' }
    },
    {
      type: 'text', x: 1866, y: 1100, z: 10,
      style: { text: '1e7', fill: '#555555', font: '10px "DejaVu Sans"', align: 'center', verticalAlign: 'middle' }
    },
    {
      type: 'group', x: 157, y: 960, z: 20,
      children: [
        { type: 'rect', shape: { x: -8, y: -2, width: 16, height: 4 }, style: { fill: '#222222' } },
        { type: 'rect', shape: { x: -2, y: -8, width: 4, height: 16 }, style: { fill: '#222222' } }
      ]
    }
  ],
  series: [
    {
      type: 'custom',
      name: 'guides',
      renderItem: renderCoreGuide,
      data: coreTicks.map(function (t) { return [0, t]; }),
      encode: { x: 0, y: 1 },
      clip: false,
      silent: true,
      z: 1
    },
    {
      type: 'custom',
      name: seriesName,
      renderItem: renderBusy,
      itemStyle: { color: barColor },
      data: busyItems,
      encode: { x: [0, 1], y: 2 },
      clip: true,
      silent: true,
      z: 2
    }
  ]
});
</script>
</body>
</html>
